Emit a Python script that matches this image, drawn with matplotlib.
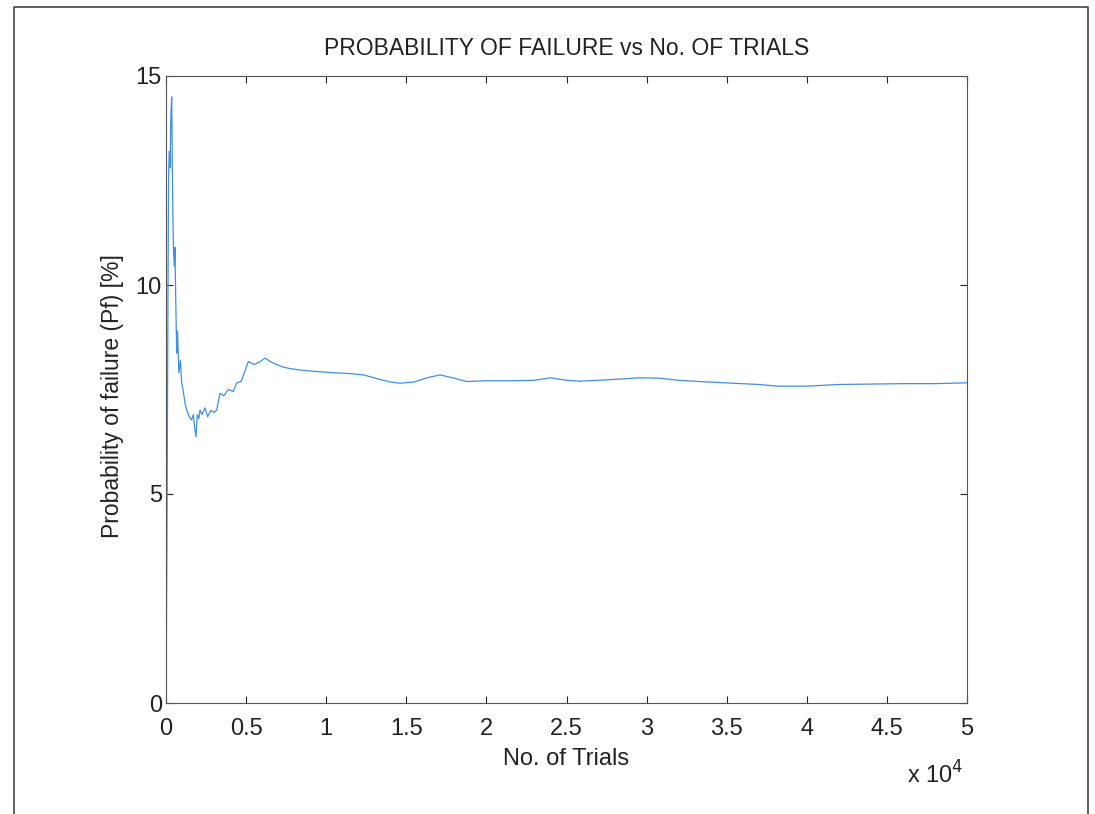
"""Probability of failure vs number of Monte Carlo trials (MATLAB-style plot)."""

import matplotlib
matplotlib.use("Agg")
import matplotlib.pyplot as plt
from matplotlib.ticker import FuncFormatter
from matplotlib.lines import Line2D

plt.rcParams["font.family"] = ["Liberation Sans", "DejaVu Sans"]

# values: trial number, running Pf in %
trials = [0, 60, 120, 160, 200, 260, 300, 356, 400, 440, 470, 520, 560, 600,
          668, 720, 800, 900, 980, 1060, 1186, 1300, 1450, 1600, 1704, 1800,
          1873, 1950, 2050, 2122, 2250, 2434, 2600, 2800, 3000, 3164, 3371,
          3600, 3900, 4200, 4400, 4700, 5140, 5500, 5800, 6180, 6600, 7200,
          7740, 8500, 9400, 10500, 11500, 12316, 13360, 14000, 14600, 15500,
          16300, 17100, 18000, 18770, 20000, 21660, 23000, 23970, 25000,
          25840, 27500, 29590, 30840, 32000, 33330, 35400, 37000, 38120,
          40000, 42000, 44000, 46000, 48000, 50000]
pf = [0.0, 4.0, 9.5, 12.5, 13.2, 12.8, 14.0, 14.5, 12.6, 11.4, 10.8, 10.44,
      10.9, 9.8, 8.37, 8.9, 7.9, 8.2, 7.66, 7.5, 7.18, 7.0, 6.85, 6.77,
      6.9, 6.55, 6.37, 6.9, 6.8, 7.01, 6.9, 7.06, 6.85, 7.0, 6.95, 7.01,
      7.41, 7.35, 7.5, 7.45, 7.65, 7.7, 8.17, 8.1, 8.15, 8.25, 8.15, 8.05,
      8.0, 7.96, 7.93, 7.9, 7.88, 7.85, 7.74, 7.68, 7.65, 7.68, 7.78,
      7.85, 7.77, 7.69, 7.71, 7.71, 7.72, 7.78, 7.72, 7.70, 7.73, 7.78,
      7.77, 7.72, 7.69, 7.65, 7.62, 7.58, 7.58, 7.62, 7.63, 7.64, 7.64,
      7.66]

x_ticks = [0, 5000, 10000, 15000, 20000, 25000, 30000, 35000, 40000, 45000, 50000]
y_ticks = [0, 5, 10, 15]

fig = plt.figure(figsize=(10.95, 8.14), dpi=100)
fig.patch.set_facecolor("white")
ax = fig.add_axes([166 / 1095, 1 - 703 / 814, (967 - 166) / 1095, (703 - 76) / 814])

ax.plot(trials, pf, color="#3f8fe6", linewidth=0.9)

ax.set_xlim(0, 50000)
ax.set_ylim(0, 15)
ax.set_xticks(x_ticks)
ax.set_yticks(y_ticks)
ax.xaxis.set_major_formatter(FuncFormatter(lambda v, p: f"{v / 1e4:g}"))
ax.tick_params(direction="in", top=True, right=True, length=5, width=0.8,
               labelsize=17, colors="#222222")
ax.tick_params(axis="x", pad=11)
ax.tick_params(axis="y", pad=3)
for s in ax.spines.values():
    s.set_color("#555555")
    s.set_linewidth(0.8)

ax.set_title("PROBABILITY OF FAILURE vs No. OF TRIALS", fontsize=16.5,
             color="#222222", pad=15)
ax.set_xlabel("No. of Trials", fontsize=17, color="#222222")
ax.set_ylabel("Probability of failure (Pf) [%]", fontsize=16.5, color="#222222")
ax.xaxis.set_label_coords(0.5, -(748 - 703) / 627)
ax.yaxis.set_label_coords(-(166 - 124) / 801, 0.49)
fig.text(935 / 1095, 1 - 775 / 814, "x 10$^4$", fontsize=17, color="#222222",
         ha="center", va="center")

# scanned page border
fig.add_artist(Line2D([14 / 1095, 14 / 1095, 1088 / 1095, 1088 / 1095],
                      [0, 1 - 7 / 814, 1 - 7 / 814, 0],
                      transform=fig.transFigure, color="#444444", linewidth=1.2))

fig.savefig("out.png", dpi=100)
